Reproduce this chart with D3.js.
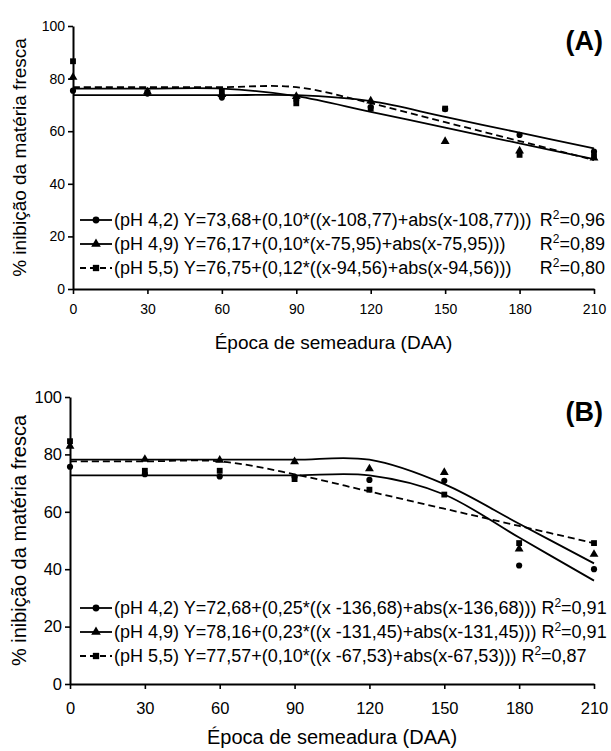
<!DOCTYPE html>
<html>
<head>
<meta charset="utf-8">
<script src="https://cdn.jsdelivr.net/npm/d3@7"></script>
<style>
  body { margin: 0; background: #fff; }
  text { font-family: "Liberation Sans", Arial, Helvetica, sans-serif; fill: #000; }
</style>
</head>
<body>
<svg id="chart" width="611" height="751"></svg>
<script>
// Sowing times (days after application) and axis ticks
const days = [0, 30, 60, 90, 120, 150, 180, 210];
const xTicks = [0, 30, 60, 90, 120, 150, 180, 210];
const yTicks = [0, 20, 40, 60, 80, 100];
const seriesPH = ["pH 4,2", "pH 4,9", "pH 5,5"];

// Panel A: observed inhibition (%) per sowing time
const obsA_pH42 = [75.4, 74.3, 72.8, 72.0, 69.2, 68.4, 58.6, 52.2];
const obsA_pH49 = [80.5, 75.0, 74.0, 73.2, 71.5, 56.1, 52.5, 49.8];
const obsA_pH55 = [86.6, 74.7, 75.0, 70.6, 68.6, 68.6, 51.0, 50.5];
// Panel A: plateau model parameters (plateau, rate of decline, break point)
const fitA_plateau = [73.68, 76.17, 76.75];
const fitA_rate = [0.10, 0.10, 0.12];
const fitA_break = [108.77, 75.95, 94.56];
const eqA = [
  "(pH 4,2) Y=73,68+(0,10*((x-108,77)+abs(x-108,77)))",
  "(pH 4,9) Y=76,17+(0,10*(x-75,95)+abs(x-75,95)))",
  "(pH 5,5) Y=76,75+(0,12*((x-94,56)+abs(x-94,56)))"
];
const r2A = ["0,96", "0,89", "0,80"];

// Panel B: observed inhibition (%) per sowing time
const obsB_pH42 = [75.7, 73.1, 72.3, 72.2, 71.1, 70.8, 41.3, 40.0];
const obsB_pH49 = [82.9, 78.3, 78.0, 77.5, 75.0, 73.7, 47.1, 45.2];
const obsB_pH55 = [84.6, 74.3, 74.3, 71.4, 67.7, 66.0, 49.1, 49.1];
// Panel B: plateau model parameters
const fitB_plateau = [72.68, 78.16, 77.57];
const fitB_rate = [0.25, 0.23, 0.10];
const fitB_break = [136.68, 131.45, 67.53];
const eqB = [
  "(pH 4,2) Y=72,68+(0,25*((x -136,68)+abs(x-136,68)))",
  "(pH 4,9) Y=78,16+(0,23*((x -131,45)+abs(x-131,45)))",
  "(pH 5,5) Y=77,57+(0,10*((x -67,53)+abs(x-67,53)))"
];
const r2B = ["0,91", "0,91", "0,87"];

const panels = [
  { tag: "(A)", obs: [obsA_pH42, obsA_pH49, obsA_pH55], plateau: fitA_plateau, rate: fitA_rate, brk: fitA_break,
    eq: eqA, r2: r2A, r2Align: "right",
    left: 73, right: 594, top: 26, bottom: 289, legendY: [220, 244, 268],
    tickFont: 14, xPad: 10, titleFont: 19 },
  { tag: "(B)", obs: [obsB_pH42, obsB_pH49, obsB_pH55], plateau: fitB_plateau, rate: fitB_rate, brk: fitB_break,
    eq: eqB, r2: r2B, r2Align: "follow",
    left: 70, right: 594, top: 397, bottom: 684, legendY: [608, 632, 656],
    tickFont: 16.5, xPad: 13, titleFont: 20 }
];

const markerTypes = [d3.symbolCircle, d3.symbolTriangle, d3.symbolSquare];
const markerSizes = [30, 34, 34];
const dashes = [null, null, "7,4"];

const svg = d3.select("#chart");

panels.forEach(p => {
  const x = d3.scaleLinear().domain([0, 210]).range([p.left, p.right]);
  const y = d3.scaleLinear().domain([0, 100]).range([p.bottom, p.top]);
  const g = svg.append("g");

  // axes
  const yAxis = g.append("g").attr("transform", `translate(${p.left},0)`)
    .call(d3.axisLeft(y).tickValues(yTicks).tickSize(5).tickSizeOuter(0).tickPadding(3));
  const xAxis = g.append("g").attr("transform", `translate(0,${p.bottom})`)
    .call(d3.axisBottom(x).tickValues(xTicks).tickSize(5).tickSizeOuter(0).tickPadding(p.xPad));
  [yAxis, xAxis].forEach(a => {
    a.select(".domain").attr("stroke", "#000").attr("stroke-width", 2);
    a.selectAll(".tick line").attr("stroke", "#000").attr("stroke-width", 1.6);
    a.selectAll(".tick text").style("font-size", p.tickFont + "px").attr("fill", "#000");
  });

  // axis titles
  g.append("text")
    .attr("transform", `translate(26,${(p.top + p.bottom) / 2}) rotate(-90)`)
    .attr("text-anchor", "middle")
    .style("font-size", p.titleFont + "px")
    .text("% inibição da matéria fresca");
  g.append("text")
    .attr("x", (p.left + p.right) / 2)
    .attr("y", p.bottom + 60)
    .attr("text-anchor", "middle")
    .style("font-size", p.titleFont + "px")
    .text("Época de semeadura (DAA)");

  // panel tag
  g.append("text")
    .attr("x", 603).attr("y", p.top + 24)
    .attr("text-anchor", "end")
    .style("font-size", "27px").style("font-weight", "bold")
    .text(p.tag);

  // fitted plateau-linear model, evaluated at each sowing time and smoothed
  const line = d3.line().x(d => x(d[0])).y(d => y(d[1])).curve(d3.curveCardinal.tension(0));
  p.obs.forEach((obs, i) => {
    const fitted = days.map(d => [d, p.plateau[i] - p.rate[i] * ((d - p.brk[i]) + Math.abs(d - p.brk[i]))]);
    g.append("path")
      .attr("d", line(fitted))
      .attr("fill", "none")
      .attr("stroke", "#000")
      .attr("stroke-width", 1.8)
      .attr("stroke-dasharray", dashes[i]);
  });

  // observed points
  p.obs.forEach((obs, i) => {
    g.selectAll(null).data(days.map((d, k) => [d, obs[k]])).join("path")
      .attr("transform", d => `translate(${x(d[0])},${y(d[1])})`)
      .attr("d", d3.symbol().type(markerTypes[i]).size(markerSizes[i]))
      .attr("fill", "#000");
  });

  // legend
  p.eq.forEach((txt, i) => {
    const ly = p.legendY[i];
    g.append("line")
      .attr("x1", 80).attr("x2", 112).attr("y1", ly).attr("y2", ly)
      .attr("stroke", "#000").attr("stroke-width", 1.8)
      .attr("stroke-dasharray", i === 2 ? "6,4" : null);
    g.append("path")
      .attr("transform", `translate(96,${ly})`)
      .attr("d", d3.symbol().type(markerTypes[i]).size(markerSizes[i] + 6))
      .attr("fill", "#000");
    const t = g.append("text")
      .attr("x", 114).attr("y", ly + 6)
      .style("font-size", "18px")
      .text(txt);
    const r = g.append("text")
      .attr("y", ly + 6)
      .style("font-size", "18px");
    r.append("tspan").text("R");
    r.append("tspan").attr("dy", -7).style("font-size", "12px").text("2");
    r.append("tspan").attr("dy", 7).text("=" + p.r2[i]);
    if (p.r2Align === "right") {
      r.attr("x", 605).attr("text-anchor", "end");
    } else {
      const w = t.node().getComputedTextLength();
      r.attr("x", 114 + w + 5);
    }
  });
});
</script>
</body>
</html>
